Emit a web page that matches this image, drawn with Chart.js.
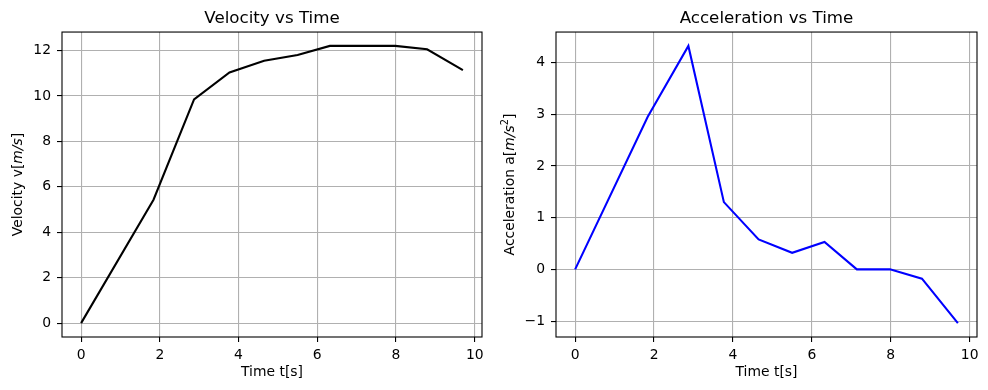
<!DOCTYPE html>
<html>
<head>
<meta charset="utf-8">
<script src="https://cdn.jsdelivr.net/npm/chart.js@4/dist/chart.umd.min.js"></script>
<style>
  html, body { margin: 0; padding: 0; background: #fff; }
  #wrap { position: relative; width: 988px; height: 390px; }
  canvas { position: absolute; top: 0; }
</style>
</head>
<body>
<div id="wrap">
  <canvas id="velChart" width="494" height="390" style="left:0"></canvas>
  <canvas id="accChart" width="494" height="390" style="left:494px"></canvas>
</div>
<script>
// --- data ---
const time = [0, 1.84, 2.87, 3.77, 4.65, 5.5, 6.32, 7.14, 7.98, 8.79, 9.7];
const velocity = [0, 5.43, 9.85, 11.03, 11.55, 11.8, 12.2, 12.2, 12.2, 12.05, 11.13];
const acceleration = [0, 2.95, 4.32, 1.3, 0.58, 0.32, 0.53, 0, 0, -0.18, -1.04];

const xTicks = [0, 2, 4, 6, 8, 10];
const velTicks = [0, 2, 4, 6, 8, 10, 12];
const accTicks = [-1, 0, 1, 2, 3, 4];

const FONT = "'DejaVu Sans', sans-serif";

// y axis labels with mathtext-like parts
const velLabel = [{ t: "Velocity v[" }, { t: "m/s", it: true }, { t: "]" }];
const accLabel = [{ t: "Acceleration a[" }, { t: "m/s", it: true }, { t: "2", sup: true }, { t: "]" }];

// matplotlib style range: data +- 5% margin
function padRange(vals) {
  const lo = Math.min(...vals), hi = Math.max(...vals);
  const m = (hi - lo) * 0.05;
  return { min: lo - m, max: hi + m };
}

// frame + rotated y label
const framePlugin = {
  id: "frame",
  afterDraw(chart, args, opts) {
    const ctx = chart.ctx, a = chart.chartArea;
    ctx.save();
    ctx.strokeStyle = "#000";
    ctx.lineWidth = 1.1;
    ctx.strokeRect(a.left, a.top, a.right - a.left, a.bottom - a.top);

    // y label
    const size = 13.9;
    const parts = opts.label;
    let w = 0;
    parts.forEach(p => {
      const s = p.sup ? size * 0.7 : size;
      ctx.font = (p.it ? "italic " : "") + s + "px " + FONT;
      p.w = ctx.measureText(p.t).width;
      w += p.w;
    });
    ctx.translate(opts.labelX, (a.top + a.bottom) / 2);
    ctx.rotate(-Math.PI / 2);
    ctx.fillStyle = "#000";
    ctx.textBaseline = "middle";
    let x = -w / 2;
    parts.forEach(p => {
      const s = p.sup ? size * 0.7 : size;
      ctx.font = (p.it ? "italic " : "") + s + "px " + FONT;
      ctx.fillText(p.t, x, p.sup ? -5 : 0);
      x += p.w;
    });
    ctx.restore();
  }
};

function makeChart(id, title, yVals, yTickVals, color, label, labelX, padRight) {
  const xr = padRange(time);
  const yr = padRange(yVals);
  const gridOpts = { color: "#b0b0b0", lineWidth: 1.1, tickColor: "#000", tickLength: 5, tickWidth: 1.1 };
  const tickFont = { family: FONT, size: 13.9 };
  return new Chart(document.getElementById(id), {
    type: "line",
    data: {
      datasets: [{
        data: time.map((t, i) => ({ x: t, y: yVals[i] })),
        borderColor: color,
        borderWidth: 2.08,
        pointRadius: 0,
        tension: 0,
        fill: false
      }]
    },
    options: {
      responsive: false,
      animation: false,
      layout: { padding: { left: 0, right: padRight, top: 0, bottom: 0 } },
      plugins: {
        legend: { display: false },
        tooltip: { enabled: false },
        title: {
          display: true,
          text: title,
          fullSize: false,
          color: "#000",
          font: { family: FONT, size: 16.7, weight: "normal" },
          padding: { top: 9, bottom: 3 }
        },
        frame: { label: label, labelX: labelX }
      },
      scales: {
        x: {
          type: "linear",
          min: xr.min,
          max: xr.max,
          afterBuildTicks: s => { s.ticks = xTicks.map(v => ({ value: v })); },
          afterFit: s => { s.height = 53; },
          grid: gridOpts,
          border: { display: false },
          ticks: { color: "#000", font: tickFont, padding: 5, maxRotation: 0 },
          title: { display: true, text: "Time t[s]", color: "#000", font: { family: FONT, size: 13.9 }, padding: { top: 0, bottom: 9 } }
        },
        y: {
          type: "linear",
          min: yr.min,
          max: yr.max,
          afterBuildTicks: s => { s.ticks = yTickVals.map(v => ({ value: v })); },
          afterFit: s => { s.width = 62; },
          grid: gridOpts,
          border: { display: false },
          ticks: {
            color: "#000",
            font: tickFont,
            padding: 6,
            callback: v => String(v).replace("-", "\u2212")
          }
        }
      }
    },
    plugins: [framePlugin]
  });
}

makeChart("velChart", "Velocity vs Time", velocity, velTicks, "#000000", velLabel, 18, 12);
makeChart("accChart", "Acceleration vs Time", acceleration, accTicks, "#0000ff", accLabel, 16, 11);
</script>
</body>
</html>
